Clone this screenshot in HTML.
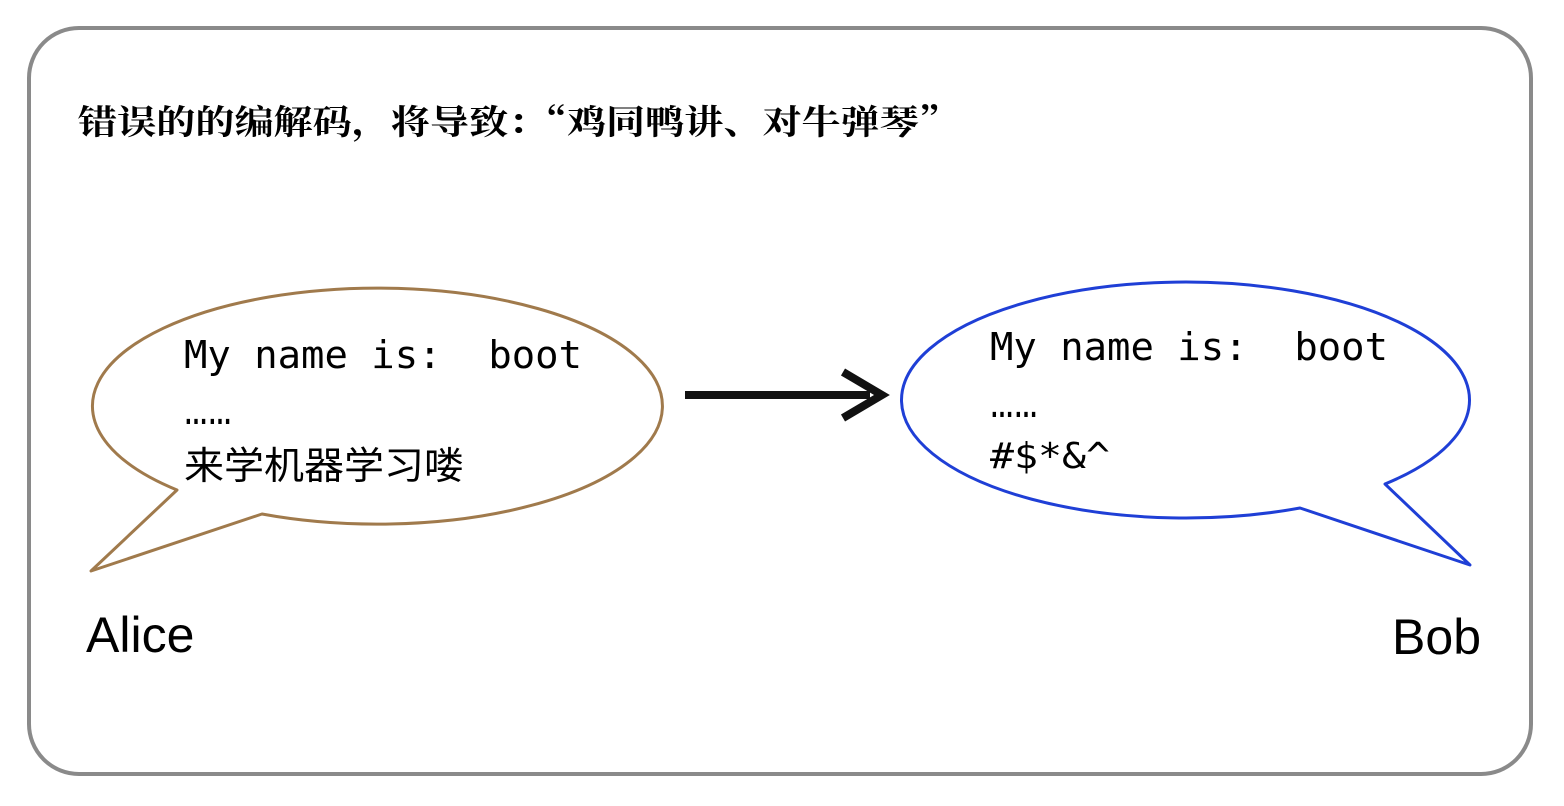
<!DOCTYPE html>
<html><head><meta charset="utf-8"><style>
html,body{margin:0;padding:0;background:#fff;}
svg{display:block;}
</style></head><body>
<svg width="1564" height="806" viewBox="0 0 1564 806" xmlns="http://www.w3.org/2000/svg">
<rect x="29" y="28" width="1502" height="746" rx="50" ry="50" fill="#fff" stroke="#8a8a8a" stroke-width="4"/>
<text x="78" y="134" textLength="880" lengthAdjust="spacingAndGlyphs" font-family="'Noto Serif CJK SC',serif" font-size="34" font-weight="bold" fill="#000">错误的的编解码，将导致：“鸡同鸭讲、对牛弹琴”</text>
<path d="M177,490 A285,118 0 1 1 262,514 L91,571 Z" fill="#fff" stroke="#a07a4c" stroke-width="3" stroke-linejoin="round"/>
<path d="M1385,484 A284,118 0 1 0 1300,508 L1470,565 Z" fill="#fff" stroke="#1f3fd6" stroke-width="3" stroke-linejoin="round"/>
<line x1="685" y1="395" x2="870" y2="395" stroke="#111" stroke-width="8"/>
<path d="M843,372 L882,395 L843,418" fill="none" stroke="#111" stroke-width="8" stroke-linejoin="miter"/>
<g font-family="'DejaVu Sans Mono','Liberation Mono',monospace" font-size="38" fill="#000">
<text x="184" y="368" textLength="398" lengthAdjust="spacingAndGlyphs" xml:space="preserve">My name is:  boot</text>
<text x="990" y="360" textLength="398" lengthAdjust="spacingAndGlyphs" xml:space="preserve">My name is:  boot</text>
<text x="990" y="468" textLength="120" lengthAdjust="spacingAndGlyphs" font-size="36">#$*&amp;^</text>
</g>
<g font-family="'Liberation Sans',sans-serif" font-size="34" font-weight="bold" fill="#000">
<text x="184" y="424" textLength="48" lengthAdjust="spacingAndGlyphs">……</text>
<text x="990" y="417" textLength="48" lengthAdjust="spacingAndGlyphs">……</text>
</g>
<text x="184" y="479" textLength="280" lengthAdjust="spacingAndGlyphs" font-family="'Noto Sans CJK SC',sans-serif" font-size="38" fill="#000">来学机器学习喽</text>
<text x="86" y="652" font-family="'Liberation Sans',sans-serif" font-size="50" fill="#000">Alice</text>
<text x="1481" y="654" text-anchor="end" font-family="'Liberation Sans',sans-serif" font-size="50" fill="#000">Bob</text>
</svg>
</body></html>
